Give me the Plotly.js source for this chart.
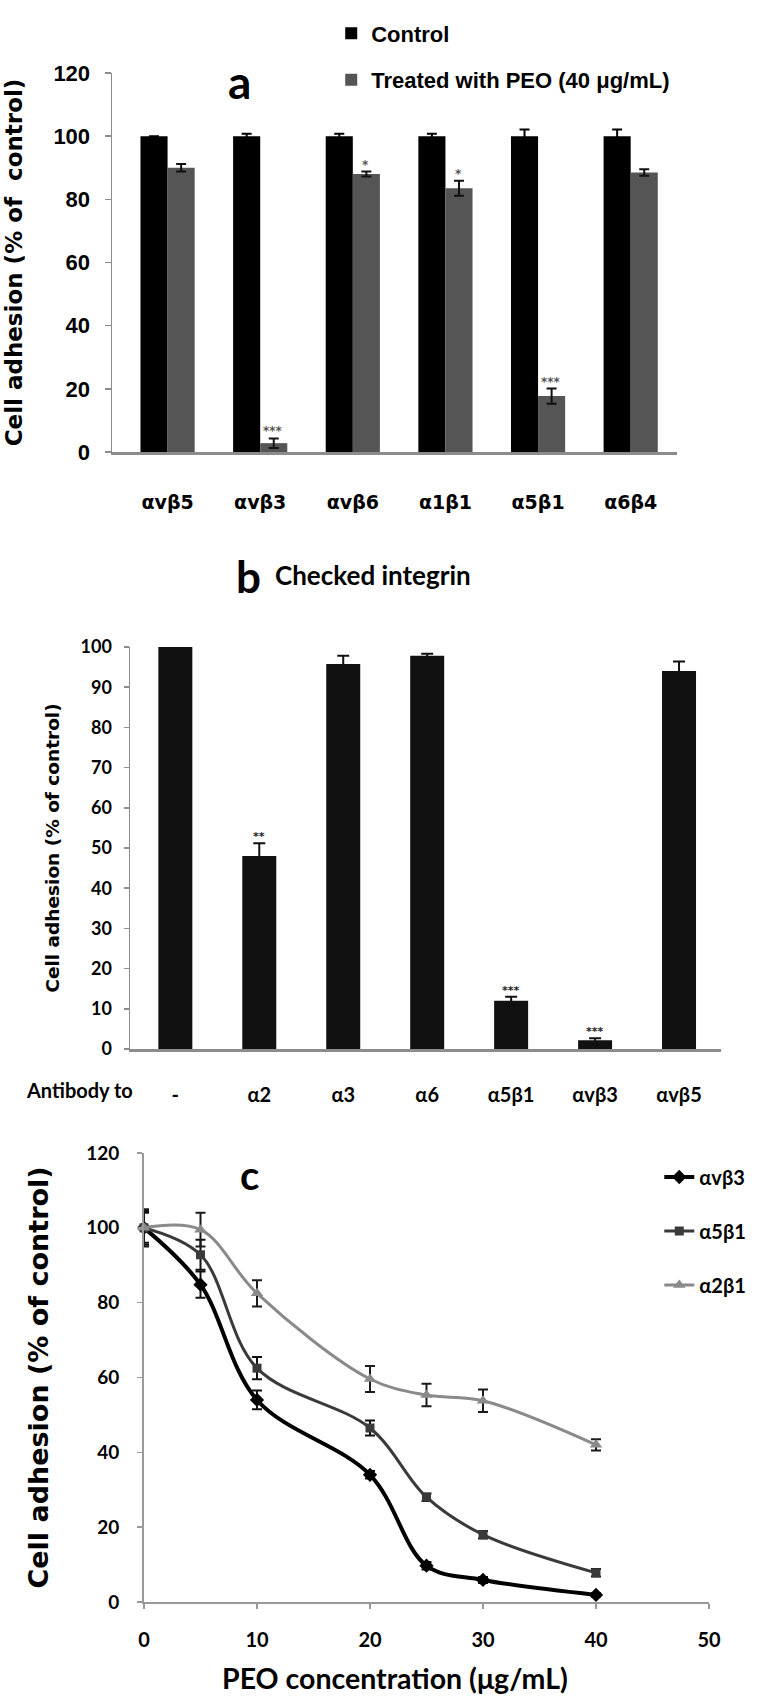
<!DOCTYPE html>
<html>
<head>
<meta charset="utf-8">
<script src="https://cdn.plot.ly/plotly-3.0.1.min.js"></script>
<style>
  body { margin: 0; background: #fff; width: 777px; height: 1696px; overflow: hidden; }
  .panel { position: absolute; left: 0; width: 777px; }
  #chartA { top: 0; height: 520px; }
  #chartB { top: 520px; height: 590px; }
  #chartC { top: 1110px; height: 586px; }
</style>
</head>
<body>
<div id="chartA" class="panel"></div>
<div id="chartB" class="panel"></div>
<div id="chartC" class="panel"></div>
<script>
// panel a - integrin adhesion, control vs PEO treated
let integrinsA = ['αvβ5', 'αvβ3', 'αvβ6', 'α1β1', 'α5β1', 'α6β4'];
let controlA = [100, 100, 100, 100, 100, 100];
let controlErrA = [0, 0.8, 0.8, 0.8, 2.1, 2.1];
let treatedA = [90, 2.8, 88, 83.5, 17.7, 88.5];
let treatedErrA = [1.2, 1.5, 0.8, 2.4, 2.4, 1];
let starsA = ['', '***', '*', '*', '***', ''];

// panel b - antibody blocking
let antibodiesB = ['-', 'α2', 'α3', 'α6', 'α5β1', 'αvβ3', 'αvβ5'];
let adhesionB = [100, 48, 95.8, 97.8, 12, 2.2, 94];
let adhesionErrB = [0.3, 3.2, 2, 0.5, 1, 0.5, 2.4];
let starsB = ['', '**', '', '', '***', '***', ''];

// panel c - dose response
let concC = [0, 5, 10, 20, 25, 30, 40];
let avb3C = [100, 84.8, 54, 34, 9.7, 5.9, 1.9];
let avb3ErrC = [4, 3.5, 2.5, 1, 1, 0.8, 0.5];
let a5b1C = [100, 92.8, 62.5, 46.5, 28, 18, 7.8];
let a5b1ErrC = [4.5, 4, 3, 2, 1, 1, 1];
let a2b1C = [100, 99.5, 82.5, 59.6, 55.3, 53.8, 42];
let a2b1ErrC = [5, 4.5, 3.5, 3.5, 3, 3, 1.5];

let fNarrow = '"Liberation Sans Narrow", "Arial Narrow", "Liberation Sans", sans-serif';
let fCal = 'Lato, "Open Sans", "Noto Sans", sans-serif';
let fWide = '"DejaVu Sans", Verdana, sans-serif';
let axisGrey = '#8c8c8c';

function starNotes(cats, vals, errs, stars, shift, color, size) {
    let notes = [];
    for (let i = 0; i < cats.length; i++) {
        if (stars[i] == '') continue;
        notes.push({
            x: cats[i], y: vals[i] + errs[i], xref: 'x', yref: 'y',
            text: stars[i], showarrow: false, yanchor: 'bottom', xshift: shift, yshift: -2,
            font: {family: fWide, size: size, color: color, weight: 'bold'}
        });
    }
    return notes;
}

function drawA() {
    let control = {
        type: 'bar', name: 'Control', x: integrinsA, y: controlA,
        marker: {color: '#000'}, legendgroup: 'g1',
        error_y: {type: 'data', array: controlErrA, color: '#000', thickness: 2, width: 5},
        cliponaxis: false
    };
    let treated = {
        type: 'bar', name: 'Treated with PEO (40 μg/mL)', x: integrinsA, y: treatedA,
        marker: {color: '#555555'}, legendgroup: 'g2',
        error_y: {type: 'data', array: treatedErrA, color: '#111', thickness: 2, width: 5},
        cliponaxis: false
    };
    let notes = starNotes(integrinsA, treatedA, treatedErrA, starsA, 13, '#555', 12);
    notes.push({
        xref: 'paper', yref: 'paper', x: 0.225, y: 0.978, text: 'a', showarrow: false,
        xanchor: 'center', yanchor: 'middle',
        font: {family: fCal, size: 46, weight: 'bold', color: '#000'}
    });
    let layout = {
        width: 777, height: 520,
        margin: {l: 112, r: 100, t: 68, b: 68},
        barmode: 'group', bargap: 0.415, bargroupgap: 0,
        paper_bgcolor: '#fff', plot_bgcolor: '#fff',
        showlegend: true,
        legend: {
            x: 0.388, y: 1.16, xanchor: 'left', yanchor: 'top',
            traceorder: 'grouped', tracegroupgap: 15,
            font: {family: fNarrow, size: 22, weight: 'bold', color: '#000'},
            bgcolor: 'rgba(0,0,0,0)'
        },
        xaxis: {
            range: [-0.6, 5.5], showline: true, linecolor: axisGrey, linewidth: 2.5,
            ticks: '', showgrid: false, zeroline: false, ticklabelstandoff: 32,
            tickfont: {family: fWide, size: 19, weight: 'bold', color: '#000'}
        },
        yaxis: {
            range: [0, 120], dtick: 20, showline: true, linecolor: axisGrey, linewidth: 1.5,
            ticks: 'outside', ticklen: 6, tickcolor: axisGrey, tickwidth: 1.5,
            showgrid: false, zeroline: false, ticklabelstandoff: 10,
            tickfont: {family: fNarrow, size: 22, weight: 'bold', color: '#000'},
            title: {text: 'Cell adhesion (% of  control)', standoff: 24,
                    font: {family: fWide, size: 23, weight: 'bold', color: '#000'}}
        },
        annotations: notes
    };
    Plotly.newPlot('chartA', [control, treated], layout, {staticPlot: true});
}

function drawB() {
    let bars = {
        type: 'bar', x: antibodiesB, y: adhesionB, marker: {color: '#111'},
        error_y: {type: 'data', array: adhesionErrB, color: '#111', thickness: 2, width: 6},
        cliponaxis: false, showlegend: false
    };
    let notes = starNotes(antibodiesB, adhesionB, adhesionErrB, starsB, 0, '#222', 11);
    notes.push({
        xref: 'paper', yref: 'paper', x: 0.0085, y: -0.102, text: 'Antibody to', showarrow: false,
        xanchor: 'right', yanchor: 'middle',
        font: {family: fCal, size: 20, weight: 'bold', color: '#000'}
    });
    notes.push({
        xref: 'paper', yref: 'paper', x: 0.2, y: 1.177, text: 'b', showarrow: false,
        xanchor: 'center', yanchor: 'middle',
        font: {family: fCal, size: 44, weight: 'bold', color: '#000'}
    });
    notes.push({
        xref: 'paper', yref: 'paper', x: 0.242, y: 1.18, text: 'Checked integrin', showarrow: false,
        xanchor: 'left', yanchor: 'middle',
        font: {family: fCal, size: 26, weight: 'bold', color: '#000'}
    });
    let layout = {
        width: 777, height: 590,
        margin: {l: 130, r: 56, t: 127, b: 61},
        bargap: 0.595,
        paper_bgcolor: '#fff', plot_bgcolor: '#fff',
        xaxis: {
            range: [-0.54, 6.5], showline: true, linecolor: axisGrey, linewidth: 2.5,
            ticks: '', showgrid: false, zeroline: false, ticklabelstandoff: 26,
            tickfont: {family: fCal, size: 20, weight: 'bold', color: '#000'}
        },
        yaxis: {
            range: [0, 100], dtick: 10, showline: true, linecolor: axisGrey, linewidth: 1.5,
            ticks: 'outside', ticklen: 5, tickcolor: axisGrey, tickwidth: 1.5,
            showgrid: false, zeroline: false, ticklabelstandoff: 8,
            tickfont: {family: fCal, size: 18, weight: 'bold', color: '#000'},
            title: {text: 'Cell adhesion (% of control)', standoff: 16,
                    font: {family: fWide, size: 18.5, weight: 'bold', color: '#000'}}
        },
        annotations: notes
    };
    Plotly.newPlot('chartB', [bars], layout, {staticPlot: true});
}

function drawC() {
    let s1 = {
        type: 'scatter', mode: 'lines+markers', name: 'αvβ3', x: concC, y: avb3C,
        line: {color: '#000', width: 4, shape: 'spline', smoothing: 1},
        marker: {symbol: 'diamond', size: 11, color: '#000'},
        error_y: {type: 'data', array: avb3ErrC, color: '#111', thickness: 2, width: 5},
        legendgroup: 'g1', cliponaxis: false
    };
    let s2 = {
        type: 'scatter', mode: 'lines+markers', name: 'α5β1', x: concC, y: a5b1C,
        line: {color: '#3a3a3a', width: 3, shape: 'spline', smoothing: 1},
        marker: {symbol: 'square', size: 9, color: '#3a3a3a'},
        error_y: {type: 'data', array: a5b1ErrC, color: '#111', thickness: 2, width: 5},
        legendgroup: 'g2', cliponaxis: false
    };
    let s3 = {
        type: 'scatter', mode: 'lines+markers', name: 'α2β1', x: concC, y: a2b1C,
        line: {color: '#8a8a8a', width: 3, shape: 'spline', smoothing: 1},
        marker: {symbol: 'triangle-up', size: 11, color: '#8a8a8a'},
        error_y: {type: 'data', array: a2b1ErrC, color: '#1a1a1a', thickness: 2, width: 5},
        legendgroup: 'g3', cliponaxis: false
    };
    let layout = {
        width: 777, height: 586,
        margin: {l: 144, r: 68, t: 43, b: 94},
        paper_bgcolor: '#fff', plot_bgcolor: '#fff',
        showlegend: true,
        legend: {
            x: 0.912, y: 0.99, xanchor: 'left', yanchor: 'top',
            traceorder: 'grouped', tracegroupgap: 25,
            font: {family: fCal, size: 20, weight: 'bold', color: '#000'},
            bgcolor: 'rgba(0,0,0,0)'
        },
        xaxis: {
            range: [0, 50], dtick: 10, showline: true, linecolor: '#999', linewidth: 2,
            ticks: 'outside', ticklen: 5, tickcolor: '#999', tickwidth: 1.5,
            showgrid: false, zeroline: false, ticklabelstandoff: 14,
            tickfont: {family: fCal, size: 20, weight: 'bold', color: '#000'}
        },
        yaxis: {
            range: [0, 120], dtick: 20, showline: true, linecolor: '#999', linewidth: 2,
            ticks: 'outside', ticklen: 5, tickcolor: '#999', tickwidth: 1.5,
            showgrid: false, zeroline: false, ticklabelstandoff: 14,
            tickfont: {family: fCal, size: 19, weight: 'bold', color: '#000'},
            title: {text: 'Cell adhesion (% of control)', standoff: 30,
                    font: {family: fWide, size: 27, weight: 'bold', color: '#000'}}
        },
        annotations: [{
            xref: 'paper', yref: 'paper', x: 0.186, y: 0.95, text: 'c', showarrow: false,
            xanchor: 'center', yanchor: 'middle',
            font: {family: fCal, size: 40, weight: 'bold', color: '#000'}
        }, {
            // x axis title sits left of the axis centre in the original
            xref: 'paper', yref: 'paper', x: 0.444, y: -0.169, text: 'PEO concentration (μg/mL)',
            showarrow: false, xanchor: 'center', yanchor: 'middle',
            font: {family: fCal, size: 28.5, weight: 'bold', color: '#000'}
        }]
    };
    Plotly.newPlot('chartC', [s1, s2, s3], layout, {staticPlot: true});
}

drawA();
drawB();
drawC();
</script>
</body>
</html>
